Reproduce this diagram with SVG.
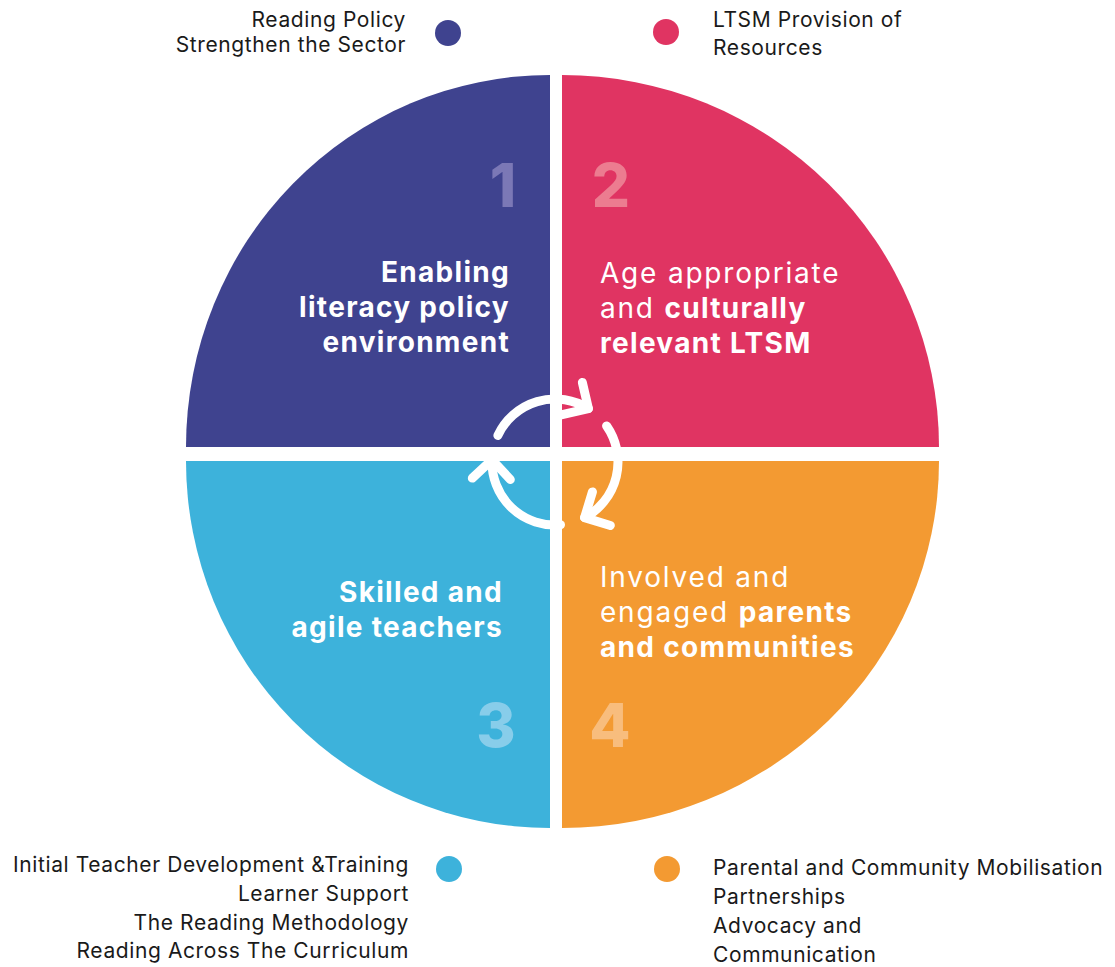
<svg xmlns="http://www.w3.org/2000/svg" width="1115" height="967" viewBox="0 0 1115 967">
<style>
.lbl{font-family:Inter,"Open Sans","Liberation Sans",sans-serif;font-size:21px;letter-spacing:0.6px;fill:#1a1a1a}
.q{font-family:Inter,"Open Sans","Liberation Sans",sans-serif;font-size:28px;letter-spacing:1.8px;fill:#ffffff}
.b{font-weight:700;letter-spacing:1.3px}
.n{font-family:Inter,"Open Sans","Liberation Sans",sans-serif;font-size:60px;font-weight:800;text-anchor:middle}
.cyc{fill:none;stroke:#ffffff;stroke-width:9;stroke-linecap:round;marker-end:url(#chev)}
</style>
<defs>
<marker id="chev" markerUnits="userSpaceOnUse" orient="auto" overflow="visible" refX="0" refY="0" markerWidth="1" markerHeight="1">
<path d="M-19,-19 L0,0 L-19,19" fill="none" stroke="#ffffff" stroke-width="9" stroke-linecap="round" stroke-linejoin="round"/>
</marker>
</defs>
<rect width="1115" height="967" fill="#ffffff"/>

<g id="q1">
<path d="M550,447 L186,447 A364,372 0 0 1 550,75 Z" fill="#3F438F"/>
<text class="n" x="503" y="207" fill="#7B78B6">1</text>
<text class="q b" text-anchor="end"><tspan x="510" y="282">Enabling</tspan><tspan x="510" y="317">literacy policy</tspan><tspan x="510" y="352">environment</tspan></text>
</g>
<g id="q2">
<path d="M562,447 L562,75 A377,372 0 0 1 939,447 Z" fill="#E03462"/>
<text class="n" x="611" y="207" fill="#EC7C90">2</text>
<text class="q"><tspan x="600" y="283">Age appropriate</tspan><tspan x="600" y="318">and <tspan class="b">culturally</tspan></tspan><tspan class="b" x="600" y="353">relevant LTSM</tspan></text>
</g>
<g id="q3">
<path d="M550,461 L550,828 A364,367 0 0 1 186,461 Z" fill="#3DB2DB"/>
<text class="n" x="496" y="747" fill="#88CDEA">3</text>
<text class="q b" text-anchor="end"><tspan x="503" y="602">Skilled and</tspan><tspan x="503" y="637">agile teachers</tspan></text>
</g>
<g id="q4">
<path d="M562,461 L939,461 A377,367 0 0 1 562,828 Z" fill="#F39A32"/>
<text class="n" x="610" y="747" fill="#F8BD7D">4</text>
<text class="q"><tspan x="600" y="587">Involved and</tspan><tspan x="600" y="622">engaged <tspan class="b">parents</tspan></tspan><tspan class="b" x="600" y="657">and communities</tspan></text>
</g>

<g id="connectors">
<path class="cyc" d="M497.9,435.4 A63,63 0 0 1 588.4,408.6"/>
<path class="cyc" d="M606.6,425.9 A63,63 0 0 1 584.6,517.6"/>
<path class="cyc" d="M560.5,524.8 A63,63 0 0 1 492,459.8"/>
</g>

<g id="legend1">
<circle cx="448" cy="33" r="13" fill="#3F438F"/>
<text class="lbl" text-anchor="end"><tspan x="406" y="27">Reading Policy</tspan><tspan x="406" y="52">Strengthen the Sector</tspan></text>
</g>
<g id="legend2">
<circle cx="666" cy="32" r="13" fill="#E03462"/>
<text class="lbl"><tspan x="713" y="27">LTSM Provision of</tspan><tspan x="713" y="55">Resources</tspan></text>
</g>
<g id="legend3">
<circle cx="449" cy="869" r="13" fill="#3DB2DB"/>
<text class="lbl" text-anchor="end"><tspan x="409" y="872">Initial Teacher Development &amp;Training</tspan><tspan x="409" y="901">Learner Support</tspan><tspan x="409" y="930">The Reading Methodology</tspan><tspan x="409" y="958">Reading Across The Curriculum</tspan></text>
</g>
<g id="legend4">
<circle cx="667" cy="869" r="13" fill="#F39A32"/>
<text class="lbl"><tspan x="713" y="875">Parental and Community Mobilisation</tspan><tspan x="713" y="904">Partnerships</tspan><tspan x="713" y="933">Advocacy and</tspan><tspan x="713" y="962">Communication</tspan></text>
</g>
</svg>
